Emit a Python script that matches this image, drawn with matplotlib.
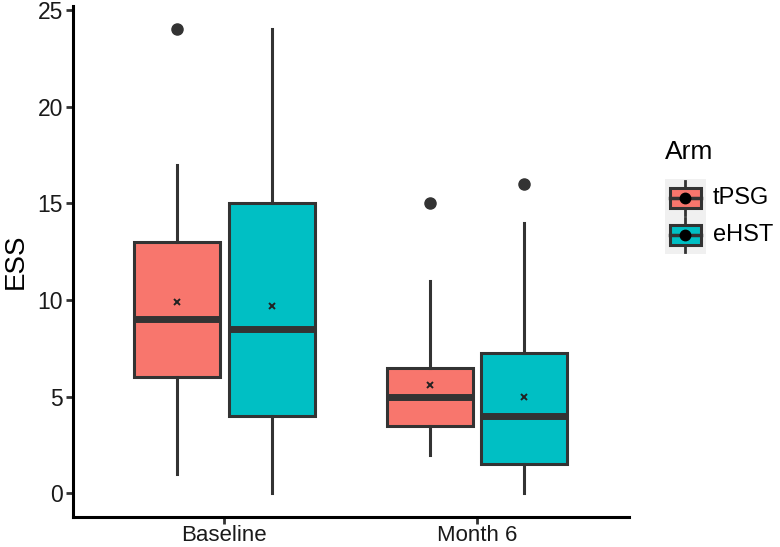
import matplotlib
matplotlib.use('Agg')
import matplotlib.pyplot as plt
from matplotlib.patches import Rectangle

plt.rcParams['font.family'] = ['Liberation Sans', 'DejaVu Sans']

categories = ['Baseline', 'Month 6']
arms = ['tPSG', 'eHST']
arm_colors = ['#F8766D', '#00BFC4']

# box statistics, one value per timepoint
tpsg_whislo = [1, 2]
tpsg_q1 = [6, 3.5]
tpsg_med = [9, 5]
tpsg_q3 = [13, 6.5]
tpsg_whishi = [17, 11]
tpsg_mean = [9.9, 5.6]
tpsg_outliers = [[24], [15]]

ehst_whislo = [0, 0]
ehst_q1 = [4, 1.5]
ehst_med = [8.5, 4]
ehst_q3 = [15, 7.25]
ehst_whishi = [24, 14]
ehst_mean = [9.7, 5.0]
ehst_outliers = [[], [16]]

series = [
    (tpsg_whislo, tpsg_q1, tpsg_med, tpsg_q3, tpsg_whishi, tpsg_mean, tpsg_outliers),
    (ehst_whislo, ehst_q1, ehst_med, ehst_q3, ehst_whishi, ehst_mean, ehst_outliers),
]

DARK = '#333333'


def make_stats(s, i):
    lo, q1, med, q3, hi, mean, out = s
    return dict(whislo=lo[i], q1=q1[i], med=med[i], q3=q3[i], whishi=hi[i],
                mean=mean[i], fliers=out[i])


def main():
    fig = plt.figure(figsize=(7.8, 5.47), dpi=100)
    ax = fig.add_axes([0.0932, 0.0554, 0.7128, 0.9334])

    offsets = [-0.1875, 0.1875]
    for k, s in enumerate(series):
        stats = [make_stats(s, i) for i in range(len(categories))]
        pos = [i + 1 + offsets[k] for i in range(len(categories))]
        ax.bxp(stats, positions=pos, widths=0.34, patch_artist=True,
               showmeans=True, showcaps=False,
               boxprops=dict(facecolor=arm_colors[k], edgecolor=DARK, linewidth=2.2),
               whiskerprops=dict(color=DARK, linewidth=2.2),
               medianprops=dict(color=DARK, linewidth=5, solid_capstyle='butt'),
               meanprops=dict(marker='x', markeredgecolor='#222222', markersize=5,
                              markeredgewidth=1.4),
               flierprops=dict(marker='o', markerfacecolor=DARK, markeredgecolor=DARK,
                               markersize=8))

    ax.set_xlim(0.4, 2.6)
    ax.set_ylim(-1.2, 25.2)
    ax.set_xticks([1, 2])
    ax.set_xticklabels(categories)
    ax.set_yticks([0, 5, 10, 15, 20, 25])
    ax.tick_params(labelsize=16, length=5, width=2, color='#333333',
                   labelcolor='#1a1a1a')
    ax.tick_params(axis='x', pad=1)
    ax.tick_params(axis='y', pad=2, labelsize=16.5)
    ax.set_ylabel('ESS', fontsize=20, labelpad=6)
    for side in ['top', 'right']:
        ax.spines[side].set_visible(False)
    for side in ['left', 'bottom']:
        ax.spines[side].set_linewidth(2.2)
        ax.spines[side].set_color('black')

    # legend drawn by hand to mimic ggplot keys
    fig.text(665 / 780, 1 - 152 / 547, 'Arm', fontsize=19, va='center', ha='left')
    lax = fig.add_axes([665 / 780, 1 - 254 / 547, 41 / 780, 75 / 547])
    lax.set_facecolor('#f0f0f0')
    lax.set_xlim(0, 41)
    lax.set_ylim(75, 0)
    lax.set_xticks([])
    lax.set_yticks([])
    for sp in lax.spines.values():
        sp.set_visible(False)
    key_centres = [19, 56]
    for k, arm in enumerate(arms):
        cy = key_centres[k]
        lax.plot([20, 20], [cy - 17, cy + 17], color=DARK, lw=2)
        lax.add_patch(Rectangle((5, cy - 10), 31, 20, facecolor=arm_colors[k],
                                edgecolor=DARK, lw=2.2, zorder=3))
        lax.plot([5, 36], [cy, cy], color=DARK, lw=2.5, zorder=4)
        lax.plot([20], [cy], 'o', color='black', markersize=7.5, zorder=5)
        fig.text(713 / 780, 1 - (179 + cy) / 547, arm, fontsize=17, va='center', ha='left')

    fig.savefig('out.png', dpi=100)


if __name__ == '__main__':
    main()
